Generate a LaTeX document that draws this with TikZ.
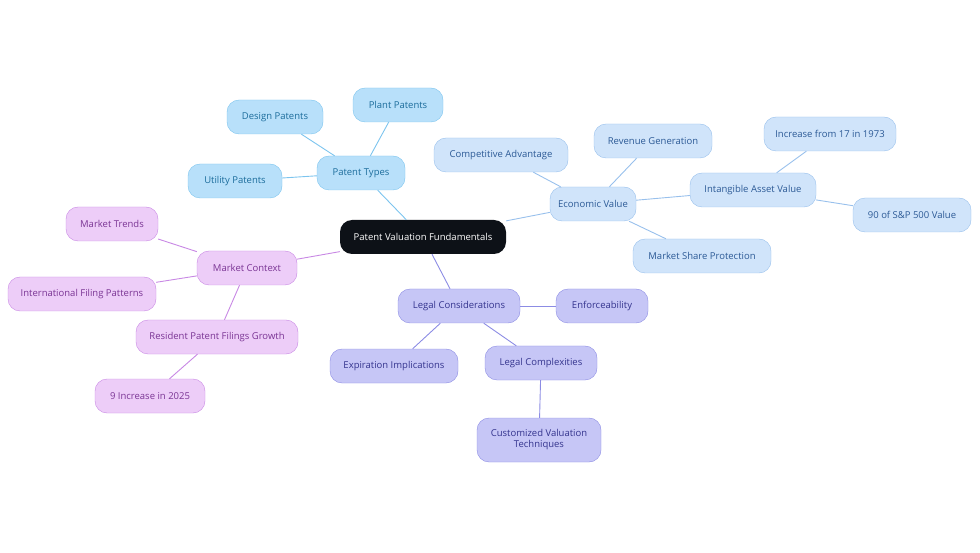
\documentclass[tikz,border=0pt]{standalone}
\usepackage{fontspec}
\setmainfont{Open Sans}
\definecolor{rootfill}{HTML}{0D1117}
\definecolor{ptfill}{HTML}{B8E0FA}\definecolor{ptline}{HTML}{7CC4EE}\definecolor{pttext}{HTML}{1C6D9C}
\definecolor{evfill}{HTML}{D0E4FA}\definecolor{evline}{HTML}{98C0EC}\definecolor{evtext}{HTML}{2C5A96}
\definecolor{lcfill}{HTML}{C6C6F6}\definecolor{lcline}{HTML}{8C8CE4}\definecolor{lctext}{HTML}{34348E}
\definecolor{mcfill}{HTML}{EDCDF8}\definecolor{mcline}{HTML}{C888E4}\definecolor{mctext}{HTML}{7A3494}
\tikzset{
  box/.style={rounded corners=12pt, minimum height=34pt, align=center, inner sep=2pt, font=\fontsize{9.5}{11}\selectfont},
  pt/.style={box, fill=ptfill, draw=ptline, text=pttext},
  ev/.style={box, fill=evfill, draw=evline, text=evtext},
  lc/.style={box, fill=lcfill, draw=lcline, text=lctext},
  mc/.style={box, fill=mcfill, draw=mcline, text=mctext},
  link/.style={line width=0.9pt},
}
\begin{document}
\begin{tikzpicture}[x=1pt,y=-1pt]
  \useasboundingbox (0,0) rectangle (980,553);

  % root
  \node[box, fill=rootfill, text=white, minimum width=166pt] (root) at (423,237) {Patent Valuation Fundamentals};

  % patent types
  \node[pt, minimum width=88pt] (types) at (361,173) {Patent Types};
  \node[pt, minimum width=96pt] (design) at (275,117) {Design Patents};
  \node[pt, minimum width=90pt] (plant) at (398,105) {Plant Patents};
  \node[pt, minimum width=94pt] (utility) at (235,181) {Utility Patents};

  % economic value
  \node[ev, minimum width=86pt] (econ) at (593,204) {Economic Value};
  \node[ev, minimum width=134pt] (compet) at (501,155) {Competitive Advantage};
  \node[ev, minimum width=118pt] (revenue) at (653,141) {Revenue Generation};
  \node[ev, minimum width=126pt] (intang) at (753,190) {Intangible Asset Value};
  \node[ev, minimum width=132pt] (incr) at (830,134) {Increase from 17 in 1973};
  \node[ev, minimum width=118pt] (sp) at (912,215) {90 of S\&P 500 Value};
  \node[ev, minimum width=138pt] (share) at (702,256) {Market Share Protection};

  % legal considerations
  \node[lc, minimum width=122pt] (legal) at (459,306) {Legal Considerations};
  \node[lc, minimum width=92pt] (enforce) at (602,306) {Enforceability};
  \node[lc, minimum width=128pt] (expire) at (394,366) {Expiration Implications};
  \node[lc, minimum width=112pt] (complex) at (541,363) {Legal Complexities};
  \node[lc, minimum width=124pt, minimum height=44pt] (custom) at (539,440) {Customized Valuation\\Techniques};

  % market context
  \node[mc, minimum width=100pt] (market) at (247,268) {Market Context};
  \node[mc, minimum width=92pt] (trends) at (112,224) {Market Trends};
  \node[mc, minimum width=148pt] (intl) at (82,294) {International Filing Patterns};
  \node[mc, minimum width=162pt] (resident) at (217,337) {Resident Patent Filings Growth};
  \node[mc, minimum width=110pt] (nine) at (150,396) {9 Increase in 2025};

  % connectors
  \draw[link, ptline] (root) -- (types);
  \draw[link, ptline] (types) -- (design);
  \draw[link, ptline] (types) -- (plant);
  \draw[link, ptline] (types) -- (utility);
  \draw[link, evline] (root) -- (econ);
  \draw[link, evline] (econ) -- (compet);
  \draw[link, evline] (econ) -- (revenue);
  \draw[link, evline] (econ) -- (intang);
  \draw[link, evline] (intang) -- (incr);
  \draw[link, evline] (intang) -- (sp);
  \draw[link, evline] (econ) -- (share);
  \draw[link, lcline] (root) -- (legal);
  \draw[link, lcline] (legal) -- (enforce);
  \draw[link, lcline] (legal) -- (expire);
  \draw[link, lcline] (legal) -- (complex);
  \draw[link, lcline] (complex) -- (custom);
  \draw[link, mcline] (root) -- (market);
  \draw[link, mcline] (market) -- (trends);
  \draw[link, mcline] (market) -- (intl);
  \draw[link, mcline] (market) -- (resident);
  \draw[link, mcline] (resident) -- (nine);
\end{tikzpicture}
\end{document}
